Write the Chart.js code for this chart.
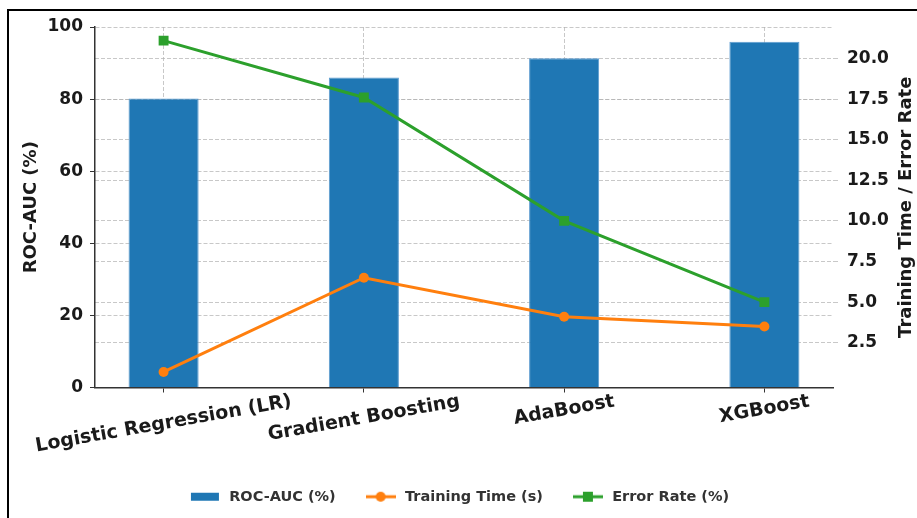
<!DOCTYPE html>
<html>
<head>
<meta charset="utf-8">
<script src="https://cdn.jsdelivr.net/npm/chart.js@4.4.1/dist/chart.umd.min.js"></script>
<style>
  html, body { margin: 0; padding: 0; background: #fff; }
  #wrap { position: relative; width: 917px; height: 518px; overflow: hidden; }
  #frame { position: absolute; left: 7px; top: 9px; width: 1000px; height: 1000px;
           border: 2px solid #000; pointer-events: none; }
  canvas { position: absolute; left: 0; top: 0; }
</style>
</head>
<body>
<div id="wrap">
  <canvas id="chart" width="917" height="518"></canvas>
  <div id="frame"></div>
</div>
<script>
// Model comparison: ROC-AUC (bars, left axis) vs training time and error rate (lines, right axis)
const models = ['Logistic Regression (LR)', 'Gradient Boosting', 'AdaBoost', 'XGBoost'];
const rocAuc = [80.2, 86.0, 91.3, 95.9];
const trainingTime = [0.7, 6.5, 4.1, 3.5];
const errorRate = [21.1, 17.6, 10.0, 5.0];
const leftTicks = [0, 20, 40, 60, 80, 100];
const rightTicks = [2.5, 5.0, 7.5, 10.0, 12.5, 15.0, 17.5, 20.0];

const FONT = '"DejaVu Sans", "Liberation Sans", sans-serif';
const GRID = 'rgba(176,176,176,0.7)';
const DASH = [4, 2];

// small swatches for the legend
function swatch(kind, color) {
  const c = document.createElement('canvas');
  c.width = 30; c.height = 12;
  const g = c.getContext('2d');
  g.fillStyle = color; g.strokeStyle = color;
  if (kind === 'bar') {
    g.fillRect(1, 2, 28, 8);
  } else {
    g.lineWidth = 3;
    g.beginPath(); g.moveTo(0, 6); g.lineTo(30, 6); g.stroke();
    if (kind === 'circle') { g.beginPath(); g.arc(15, 6, 5, 0, Math.PI * 2); g.fill(); }
    else { g.fillRect(10, 1, 10, 10); }
  }
  return c;
}
const legendMarks = [swatch('bar', '#1f77b4'), swatch('circle', '#ff7f0e'), swatch('square', '#2ca02c')];

const toPoints = arr => arr.map((v, i) => ({ x: i, y: v }));

// category labels and axis titles drawn as rotated text
const axisText = {
  id: 'axisText',
  afterDraw(chart) {
    const ctx = chart.ctx, area = chart.chartArea, xs = chart.scales.x;
    const ang = 10 * Math.PI / 180;
    ctx.save();
    ctx.fillStyle = '#1a1a1a';
    ctx.font = 'bold 19px ' + FONT;
    ctx.textAlign = 'center';
    ctx.textBaseline = 'middle';
    models.forEach((name, i) => {
      const w = ctx.measureText(name).width;
      const boxH = w * Math.sin(ang) + 19 * 1.17 * Math.cos(ang);
      ctx.save();
      ctx.translate(xs.getPixelForValue(i), area.bottom + 3 + boxH / 2);
      ctx.rotate(-ang);
      ctx.fillText(name, 0, 0);
      ctx.restore();
    });
    const midY = (area.top + area.bottom) / 2;
    ctx.font = 'bold 18px ' + FONT;
    [['ROC-AUC (%)', 31], ['Training Time / Error Rate', 906]].forEach(([t, x]) => {
      ctx.save();
      ctx.translate(x, midY);
      ctx.rotate(-Math.PI / 2);
      ctx.fillText(t, 0, 0);
      ctx.restore();
    });
    ctx.restore();
  }
};

new Chart(document.getElementById('chart'), {
  type: 'bar',
  data: {
    datasets: [
      {
        type: 'bar', label: 'ROC-AUC (%)', data: toPoints(rocAuc),
        backgroundColor: '#1f77b4', borderColor: '#5b9bd0', borderWidth: 1,
        barPercentage: 0.35, categoryPercentage: 1, yAxisID: 'y', order: 3
      },
      {
        type: 'line', label: 'Training Time (s)', data: toPoints(trainingTime),
        borderColor: '#ff7f0e', backgroundColor: '#ff7f0e', borderWidth: 3,
        pointStyle: 'circle', pointRadius: 5, pointBorderWidth: 0,
        tension: 0, fill: false, yAxisID: 'y2', order: 1
      },
      {
        type: 'line', label: 'Error Rate (%)', data: toPoints(errorRate),
        borderColor: '#2ca02c', backgroundColor: '#2ca02c', borderWidth: 3,
        pointStyle: 'rect', pointRadius: 7, pointBorderWidth: 0,
        tension: 0, fill: false, yAxisID: 'y2', order: 0
      }
    ]
  },
  options: {
    responsive: false,
    animation: false,
    devicePixelRatio: 1,
    layout: { padding: { top: 27, left: 0, right: 0, bottom: 4 } },
    plugins: {
      tooltip: { enabled: false },
      legend: {
        position: 'bottom',
        labels: {
          color: '#333',
          font: { family: FONT, size: 14.5, weight: 'bold' },
          usePointStyle: true,
          pointStyleWidth: 34,
          padding: 28,
          generateLabels: chart => chart.data.datasets.map((ds, i) => ({
            text: ds.label, pointStyle: legendMarks[i], fillStyle: ds.backgroundColor,
            strokeStyle: ds.borderColor, lineWidth: 0, hidden: false, datasetIndex: i,
            fontColor: '#333'
          }))
        }
      }
    },
    scales: {
      x: {
        type: 'linear', offset: false, min: -0.3425, max: 3.3425,
        afterBuildTicks: s => { s.ticks = models.map((_, i) => ({ value: i })); },
        afterFit: s => { s.height = 74; },
        ticks: { autoSkip: false, maxRotation: 0, callback: () => '' },
        grid: { offset: false, color: GRID, lineWidth: 1, tickColor: '#333', tickLength: 5 },
        border: { display: true, color: '#333', width: 1.5, dash: DASH }
      },
      y: {
        type: 'linear', position: 'left', min: 0, max: 100,
        afterBuildTicks: s => { s.ticks = leftTicks.map(v => ({ value: v })); },
        afterFit: s => { s.width = 95; },
        ticks: { color: '#1a1a1a', font: { family: FONT, size: 17, weight: 'bold' }, padding: 7 },
        grid: { color: GRID, lineWidth: 1, tickColor: '#333', tickLength: 5 },
        border: { display: true, color: '#333', width: 1.5, dash: DASH }
      },
      y2: {
        type: 'linear', position: 'right', min: -0.26, max: 21.94,
        afterBuildTicks: s => { s.ticks = rightTicks.map(v => ({ value: v })); },
        afterFit: s => { s.width = 84; },
        ticks: { color: '#1a1a1a', font: { family: FONT, size: 17, weight: 'bold' }, padding: 9,
                 callback: v => Number(v).toFixed(1) },
        grid: { color: GRID, lineWidth: 1, tickColor: GRID, tickLength: 5 },
        border: { display: false, dash: DASH }
      }
    }
  },
  plugins: [axisText]
});
</script>
</body>
</html>
